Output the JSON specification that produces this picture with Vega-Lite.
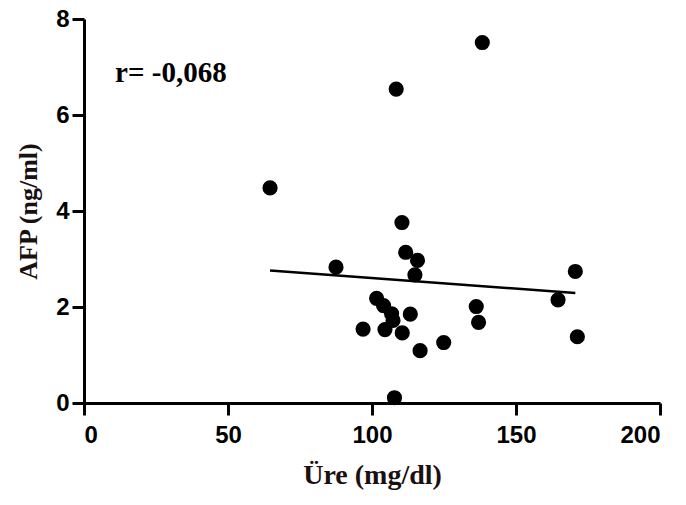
{
  "$schema": "https://vega.github.io/schema/vega-lite/v6.json",
  "width": 576,
  "height": 384,
  "autosize": {"type": "none"},
  "padding": {"left": 84, "top": 19, "right": 26, "bottom": 102},
  "background": "white",
  "config": {
    "view": {"stroke": null},
    "axis": {
      "domainColor": "black",
      "domainWidth": 3,
      "tickColor": "black",
      "tickWidth": 3,
      "tickSize": 12,
      "grid": false,
      "labelFont": "Liberation Sans",
      "labelFontWeight": "bold",
      "labelFontSize": 24,
      "labelColor": "black",
      "titleFont": "Liberation Serif",
      "titleFontWeight": "bold",
      "titleFontSize": 26,
      "titleColor": "#1a1010"
    }
  },
  "datasets": {
    "pts": [
      {"ure": 64.6, "afp": 4.48},
      {"ure": 138.3, "afp": 7.51},
      {"ure": 108.4, "afp": 6.54},
      {"ure": 110.4, "afp": 3.76},
      {"ure": 111.7, "afp": 3.14},
      {"ure": 115.8, "afp": 2.97},
      {"ure": 114.9, "afp": 2.67},
      {"ure": 87.5, "afp": 2.83},
      {"ure": 101.6, "afp": 2.18},
      {"ure": 104.0, "afp": 2.03},
      {"ure": 106.8, "afp": 1.86},
      {"ure": 113.3, "afp": 1.85},
      {"ure": 107.3, "afp": 1.72},
      {"ure": 96.9, "afp": 1.54},
      {"ure": 104.5, "afp": 1.53},
      {"ure": 110.5, "afp": 1.46},
      {"ure": 116.7, "afp": 1.09},
      {"ure": 124.9, "afp": 1.26},
      {"ure": 136.2, "afp": 2.01},
      {"ure": 137.0, "afp": 1.68},
      {"ure": 164.6, "afp": 2.15},
      {"ure": 170.6, "afp": 2.74},
      {"ure": 171.3, "afp": 1.38},
      {"ure": 107.8, "afp": 0.11}
    ],
    "fit": [
      {"ure": 64.6, "afp": 2.76},
      {"ure": 170.6, "afp": 2.29}
    ],
    "note": [
      {"ure": 10.8, "afp": 6.88, "label": "r= -0,068"}
    ]
  },
  "layer": [
    {
      "data": {"name": "fit"},
      "mark": {"type": "line", "color": "black", "strokeWidth": 2.5},
      "encoding": {
        "x": {
          "field": "ure", "type": "quantitative",
          "scale": {"domain": [0, 200], "nice": false, "zero": false},
          "axis": {"values": [0, 50, 100, 150, 200], "title": "Üre (mg/dl)", "titleFontSize": 28, "labelPadding": 8, "titlePadding": 14}
        },
        "y": {
          "field": "afp", "type": "quantitative",
          "scale": {"domain": [0, 8], "nice": false, "zero": false},
          "axis": {"values": [0, 2, 4, 6, 8], "title": "AFP (ng/ml)", "labelPadding": 3, "titlePadding": 14}
        }
      }
    },
    {
      "data": {"name": "pts"},
      "mark": {"type": "circle", "color": "black", "opacity": 1, "size": 230},
      "encoding": {
        "x": {"field": "ure", "type": "quantitative"},
        "y": {"field": "afp", "type": "quantitative"}
      }
    },
    {
      "data": {"name": "note"},
      "mark": {"type": "text", "align": "left", "baseline": "middle", "font": "Liberation Serif", "fontWeight": "bold", "fontSize": 29, "color": "black"},
      "encoding": {
        "x": {"field": "ure", "type": "quantitative"},
        "y": {"field": "afp", "type": "quantitative"},
        "text": {"field": "label"}
      }
    }
  ]
}
